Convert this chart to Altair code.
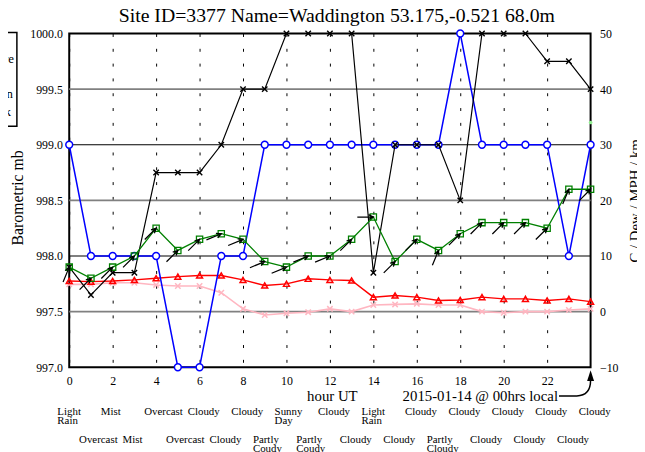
import altair as alt
import pandas as pd

# ---------------- data ----------------
hours = list(range(25))
temperature_c = [5.5, 5.4, 5.5, 5.7, 6.0, 6.3, 6.5, 6.5, 5.7, 4.7, 5.0, 5.9, 5.7,
                 5.6, 2.6, 2.9, 2.6, 2.0, 2.1, 2.6, 2.3, 2.3, 2.0, 2.3, 1.8]
dew_point_c = [4.9, 4.9, 5.2, 5.2, 4.8, 4.6, 4.6, 3.4, 0.5, -0.6, -0.3, -0.1, 0.5,
               0.0, 1.2, 1.3, 1.4, 1.2, 1.2, 0.0, -0.2, 0.0, 0.0, 0.3, 0.5]
wind_mph = [8, 6, 8, 10, 15, 11, 13, 14, 13, 9, 8, 10, 10,
            13, 17, 9, 13, 11, 14, 16, 16, 16, 15, 22, 22]
wind_from_deg = [202.5, 225, 225, 225, 225, 225, 225, 247.5, 247.5, 247.5, 247.5, 247.5, 247.5,
                 225, 270, 225, 225, 202.5, 225, 225, 225, 225, 225, 202.5, 225]
visibility_km = [8, 3, 7, 7, 25, 25, 25, 30, 40, 40, 50, 50, 50,
                 50, 7, 30, 30, 30, 20, 50, 50, 50, 45, 45, 40]
blue_level = [30, 10, 10, 10, 10, -10, -10, 10, 10, 30, 30, 30, 30,
              30, 30, 30, 30, 30, 50, 30, 30, 30, 30, 10, 30]
gust_hour = [24]
gust_mph = [34]

mb_grid = [997.5, 998.0, 998.5, 999.0, 999.5]
mb_grid_color = ["#808080", "#000000", "#808080", "#000000", "#808080"]
mb_grid_width = [1.8, 1.2, 1.8, 1.2, 1.8]

wx_even_hours = list(range(0, 25, 2))
wx_even = ["Light\nRain", "Mist", "Overcast", "Cloudy", "Cloudy", "Sunny\nDay", "Cloudy",
           "Light\nRain", "Cloudy", "Cloudy", "Cloudy", "Cloudy", "Cloudy"]
wx_odd_hours = list(range(1, 24, 2))
wx_odd = ["Overcast", "Mist", "Overcast", "Cloudy", "Partly\nCoudy", "Partly\nCoudy", "Cloudy",
          "Cloudy", "Partly\nCloudy", "Cloudy", "Cloudy", "Cloudy"]

legend_lines = ["Temperature", "Green", "Black"]
title_text = "Site ID=3377 Name=Waddington 53.175,-0.521 68.0m"
local_note = "2015-01-14 @ 00hrs local"

# ---------------- tables ----------------
df = pd.DataFrame({
    "hour": hours, "temp": temperature_c, "dew": dew_point_c, "wind": wind_mph,
    "wdir": wind_from_deg, "vis": visibility_km, "blue": blue_level,
})
gust_df = pd.DataFrame({"hour": gust_hour, "gust": gust_mph})
grid_df = pd.DataFrame({"mb": mb_grid, "col": mb_grid_color, "w": mb_grid_width})
even_df = pd.DataFrame({"hour": wx_even_hours, "wx": wx_even})
odd_df = pd.DataFrame({"hour": wx_odd_hours, "wx": wx_odd})
one = pd.DataFrame({"hour": [24]})

FONT = "Liberation Serif"
XSHAPE = "M -1 -1 L 1 1 M -1 1 L 1 -1"
ARROW = "M -2 0 L 0 0 M -0.6 -0.3 L 0 0 L -0.6 0.3"

XS = alt.Scale(domain=[0, 24], nice=False, zero=False)
YS = alt.Scale(domain=[-10, 50], nice=False, zero=False)


def X(field="hour", axis=alt.Undefined):
    return alt.X(f"{field}:Q", scale=XS, axis=axis)


def Y(field, axis=alt.Undefined):
    return alt.Y(f"{field}:Q", scale=YS, axis=axis)


x_axis = alt.Axis(values=list(range(0, 23, 2)), grid=True, gridDash=[3, 12], gridColor="#000",
                  gridWidth=1, gridOpacity=1, domain=False, ticks=False, labelPadding=8,
                  labelFontSize=12, labelColor="#000", labelFlush=False, title="hour UT",
                  titleFontSize=15, titleFontWeight="normal", titleColor="#000", titleX=266,
                  titleY=34, titleBaseline="alphabetic", titleAlign="center")

y_left_axis = alt.Axis(orient="left", values=[997 + 0.5 * i for i in range(7)], format=".1f",
                       grid=False, domain=False, ticks=False, labelPadding=7, labelFontSize=12,
                       labelColor="#000", title="Barometric mb", titleFontSize=16,
                       titleFontWeight="normal", titleColor="#000", titleAngle=270, titleX=-47,
                       titleY=166, titleAlign="center", titleBaseline="alphabetic")

y_right_axis = alt.Axis(orient="right", values=list(range(-10, 51, 10)), grid=False, domain=False,
                        ticks=False, labelPadding=9, labelFontSize=12, labelColor="#000",
                        title="C / Dew / MPH / km", titleFontSize=15, titleFontWeight="normal",
                        titleColor="#000", titleAngle=270, titleX=50, titleY=169,
                        titleAlign="center", titleBaseline="alphabetic")

# ---------------- left (pressure) layer: grid lines ----------------
left = alt.Chart(grid_df).mark_rule().encode(
    y=alt.Y("mb:Q", scale=alt.Scale(domain=[997, 1000], nice=False, zero=False), axis=y_left_axis),
    color=alt.Color("col:N", scale=None),
    strokeWidth=alt.StrokeWidth("w:Q", scale=None),
)

base = alt.Chart(df)

pink_line = base.mark_line(color="#ffb6c1", strokeWidth=1.6).encode(x=X(axis=x_axis), y=Y("dew", y_right_axis))
pink_pts = base.mark_point(shape=XSHAPE, filled=False, color="#ffb6c1", size=30, strokeWidth=1.5, opacity=1).encode(x=X(), y=Y("dew"))

red_line = base.mark_line(color="#ff0000", strokeWidth=1.4).encode(x=X(), y=Y("temp"))
red_pts = base.mark_point(shape="triangle-up", filled=False, color="#ff0000", size=36, strokeWidth=1.5, opacity=1).encode(x=X(), y=Y("temp"))

blue_line = base.mark_line(color="#0000ff", strokeWidth=1.5).encode(x=X(), y=Y("blue"))
blue_pts = base.mark_point(shape="circle", filled=True, fill="#ffffff", stroke="#0000ff", size=48, strokeWidth=1.5, opacity=1).encode(x=X(), y=Y("blue"))

black_line = base.mark_line(color="#000000", strokeWidth=1.2).encode(x=X(), y=Y("vis"))
black_pts = base.mark_point(shape=XSHAPE, filled=False, color="#000000", size=30, strokeWidth=1.4, opacity=1).encode(x=X(), y=Y("vis"))

green_line = base.mark_line(color="#008000", strokeWidth=1.3).encode(x=X(), y=Y("wind"))
green_pts = base.mark_point(shape="square", filled=False, color="#008000", size=40, strokeWidth=1.3, opacity=1).encode(x=X(), y=Y("wind"))

arrows = base.transform_calculate(ang="(datum.wdir + 90) % 360").mark_point(
    shape=ARROW, filled=False, color="#000000", size=264, strokeWidth=1.25, opacity=1
).encode(x=X(), y=Y("wind"), angle=alt.Angle("ang:Q", scale=None))

gust = alt.Chart(gust_df).mark_point(shape="circle", filled=True, color="#90ee90", size=14, opacity=1).encode(
    x=X(), y=Y("gust"))

wx_row1 = alt.Chart(even_df).mark_text(align="left", baseline="alphabetic", dx=-12, lineBreak="\n",
                                       lineHeight=9, fontSize=11, font=FONT, color="#000").encode(
    x=X(), y=alt.value(386), text="wx:N")
wx_row2 = alt.Chart(odd_df).mark_text(align="left", baseline="alphabetic", dx=-12, lineBreak="\n",
                                      lineHeight=9, fontSize=11, font=FONT, color="#000").encode(
    x=X(), y=alt.value(415), text="wx:N")

note = alt.Chart(one).mark_text(align="right", baseline="alphabetic", dx=-33, fontSize=15,
                                font=FONT, color="#000").encode(x=X(), y=alt.value(372), text=alt.value(local_note))
curve = alt.Chart(one).mark_point(shape="M 0 10 Q 0 26 -14 26 L -32 26", filled=False, color="#000",
                                  size=4, strokeWidth=1.5, opacity=1).encode(x=X(), y=alt.value(341))
head = alt.Chart(one).mark_point(shape="M 0 0 L 3.5 11 L -3.5 11 Z", filled=True, color="#000",
                                 size=4, opacity=1).encode(x=X(), y=alt.value(341))

leg_df = pd.DataFrame({"t": legend_lines, "px": [-56, -57, -59], "py": [30, 65, 84]})
leg_box = alt.Chart(one).mark_rect(fill=None, stroke="#000", strokeWidth=1.5).encode(
    x=alt.value(-120), x2=alt.value(-53), y=alt.value(-1), y2=alt.value(94))
leg_text = alt.Chart(leg_df).mark_text(align="right", baseline="alphabetic", fontSize=13, font=FONT,
                                       color="#000").encode(
    x=alt.X("px:Q", scale=None), y=alt.Y("py:Q", scale=None), text="t:N")

right = alt.layer(pink_line, pink_pts, red_line, red_pts, blue_line, blue_pts, black_line, black_pts,
                  green_line, green_pts, arrows, gust, wx_row1, wx_row2, note, curve, head)

chart = alt.layer(left, right, leg_box, leg_text).resolve_scale(y="independent").properties(
    width=528, height=338,
    autosize=alt.AutoSizeParams(type="none"),
    padding={"left": 62, "top": 23, "right": 47, "bottom": 83},
    title=alt.TitleParams(text=title_text, fontSize=20, fontWeight="normal", font=FONT,
                          color="#000", offset=1, dx=7, anchor="middle"),
).configure(font=FONT).configure_view(stroke="#000", strokeWidth=2)

chart.save("out.html", embed_options={"renderer": "svg", "actions": False})
